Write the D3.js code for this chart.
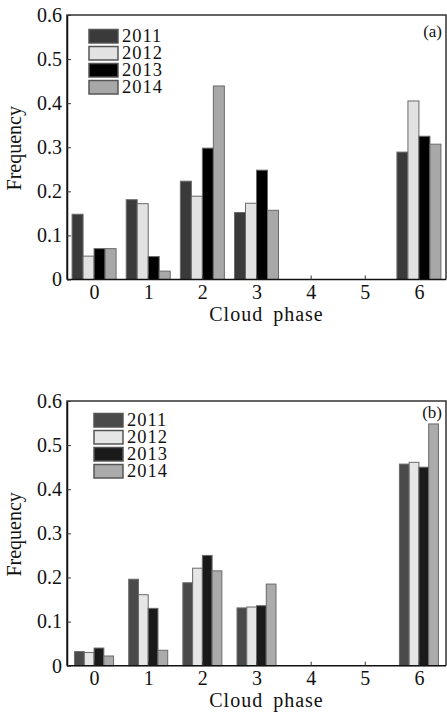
<!DOCTYPE html>
<html><head><meta charset="utf-8">
<script src="https://cdn.jsdelivr.net/npm/d3@7"></script>
<style>body{margin:0;background:#fff;} svg, svg text{font-family:"Liberation Serif","Tinos","Times New Roman","Times","DejaVu Serif",serif !important;}</style>
</head><body>
<svg id="c" width="447" height="712"></svg>
<script>
const categories = ["0","1","2","3","4","5","6"];
const years = ["2011","2012","2013","2014"];
const yTicks = [0,0.1,0.2,0.3,0.4,0.5,0.6];
const yTickLabels = ["0","0.1","0.2","0.3","0.4","0.5","0.6"];
// panel (a)
const a2011 = [0.148,0.181,0.223,0.152,0,0,0.289];
const a2012 = [0.053,0.172,0.189,0.173,0,0,0.405];
const a2013 = [0.070,0.052,0.298,0.248,0,0,0.325];
const a2014 = [0.070,0.019,0.439,0.157,0,0,0.307];
// panel (b)
const b2011 = [0.032,0.196,0.188,0.131,0,0,0.457];
const b2012 = [0.030,0.161,0.221,0.133,0,0,0.461];
const b2013 = [0.040,0.130,0.250,0.136,0,0,0.450];
const b2014 = [0.022,0.035,0.215,0.185,0,0,0.548];

const FONT = "Liberation Serif, Tinos, Times New Roman, Times, DejaVu Serif, serif";
const svg = d3.select("#c").attr("font-family",FONT);

function panel(cfg){
  const {top,bottom,left,right,series,colors,label,labelY,legendX,legendY,groupW} = cfg;
  const g = svg.append("g");
  const x = d3.scalePoint().domain(categories).range([left,right]).padding(0.5);
  const y = d3.scaleLinear().domain([0,0.6]).range([bottom,top]);
  const sub = d3.scaleBand().domain(years).range([-groupW/2,groupW/2]).padding(0);
  years.forEach((yr,si)=>{
    const vals = series[si];
    g.append("g").selectAll("rect")
      .data(categories.map((c,i)=>({c,v:vals[i]})).filter(d=>d.v>0))
      .join("rect")
      .attr("x",d=>x(d.c)+sub(yr))
      .attr("width",sub.bandwidth())
      .attr("y",d=>y(d.v))
      .attr("height",d=>y(0)-y(d.v))
      .attr("fill",colors[si])
      .attr("stroke","#6a6a6a").attr("stroke-width",1);
  });
  g.append("path").attr("d",`M${left},${bottom}V${top}H${right}V${bottom}`)
    .attr("fill","none").attr("stroke","#333").attr("stroke-width",1.5);
  const xa = g.append("g").attr("transform",`translate(0,${bottom})`)
    .call(d3.axisBottom(x).tickSizeInner(-4).tickSizeOuter(0).tickPadding(8));
  xa.attr("font-family",FONT);
  xa.select(".domain").attr("stroke","#111").attr("stroke-width",1.5).attr("d",`M${left},0H${right}`);
  xa.selectAll(".tick line").attr("stroke","#333");
  xa.selectAll(".tick text").attr("font-size",20).attr("fill","#111").attr("dy","0.75em").attr("y",4.5);
  const ya = g.append("g").attr("transform",`translate(${left},0)`)
    .call(d3.axisLeft(y).tickValues(yTicks).tickFormat((d,i)=>yTickLabels[i]).tickSizeInner(-4).tickSizeOuter(0).tickPadding(5));
  ya.attr("font-family",FONT);
  ya.select(".domain").attr("stroke","#111").attr("stroke-width",1.5);
  ya.selectAll(".tick line").attr("stroke","#333");
  ya.selectAll(".tick text").attr("font-size",20).attr("fill","#111");
  g.append("text").attr("x",(left+right)/2+10).attr("y",bottom+41).attr("text-anchor","middle")
    .attr("font-size",20).attr("letter-spacing",1).attr("word-spacing",4).attr("fill","#111").text("Cloud phase");
  g.append("text").attr("transform",`translate(21,${(top+bottom)/2+1}) rotate(-90)`).attr("text-anchor","middle")
    .attr("font-size",20).attr("fill","#111").text("Frequency");
  g.append("text").attr("x",right-4).attr("y",labelY).attr("text-anchor","end")
    .attr("font-size",17).attr("fill","#111").text(label);
  const lg = g.append("g").attr("transform",`translate(${legendX},${legendY})`);
  years.forEach((yr,i)=>{
    lg.append("rect").attr("x",0).attr("y",i*17).attr("width",29).attr("height",13.5)
      .attr("fill",colors[i]).attr("stroke","#555").attr("stroke-width",1.5);
    lg.append("text").attr("x",33).attr("y",i*17+12).attr("font-size",18.5).attr("letter-spacing",1)
      .attr("fill","#111").text(yr);
  });
}

panel({top:15,bottom:279.5,left:67,right:446,series:[a2011,a2012,a2013,a2014],
  colors:["#3a3a3a","#e2e2e2","#000000","#a8a8a8"],label:"(a)",labelY:37,legendX:89,legendY:29.5,groupW:44});
panel({top:401,bottom:665.7,left:67,right:446,series:[b2011,b2012,b2013,b2014],
  colors:["#4a4a4a","#e6e6e6","#1a1a1a","#ababab"],label:"(b)",labelY:418,legendX:94,legendY:413.5,groupW:39});
</script>
</body></html>
